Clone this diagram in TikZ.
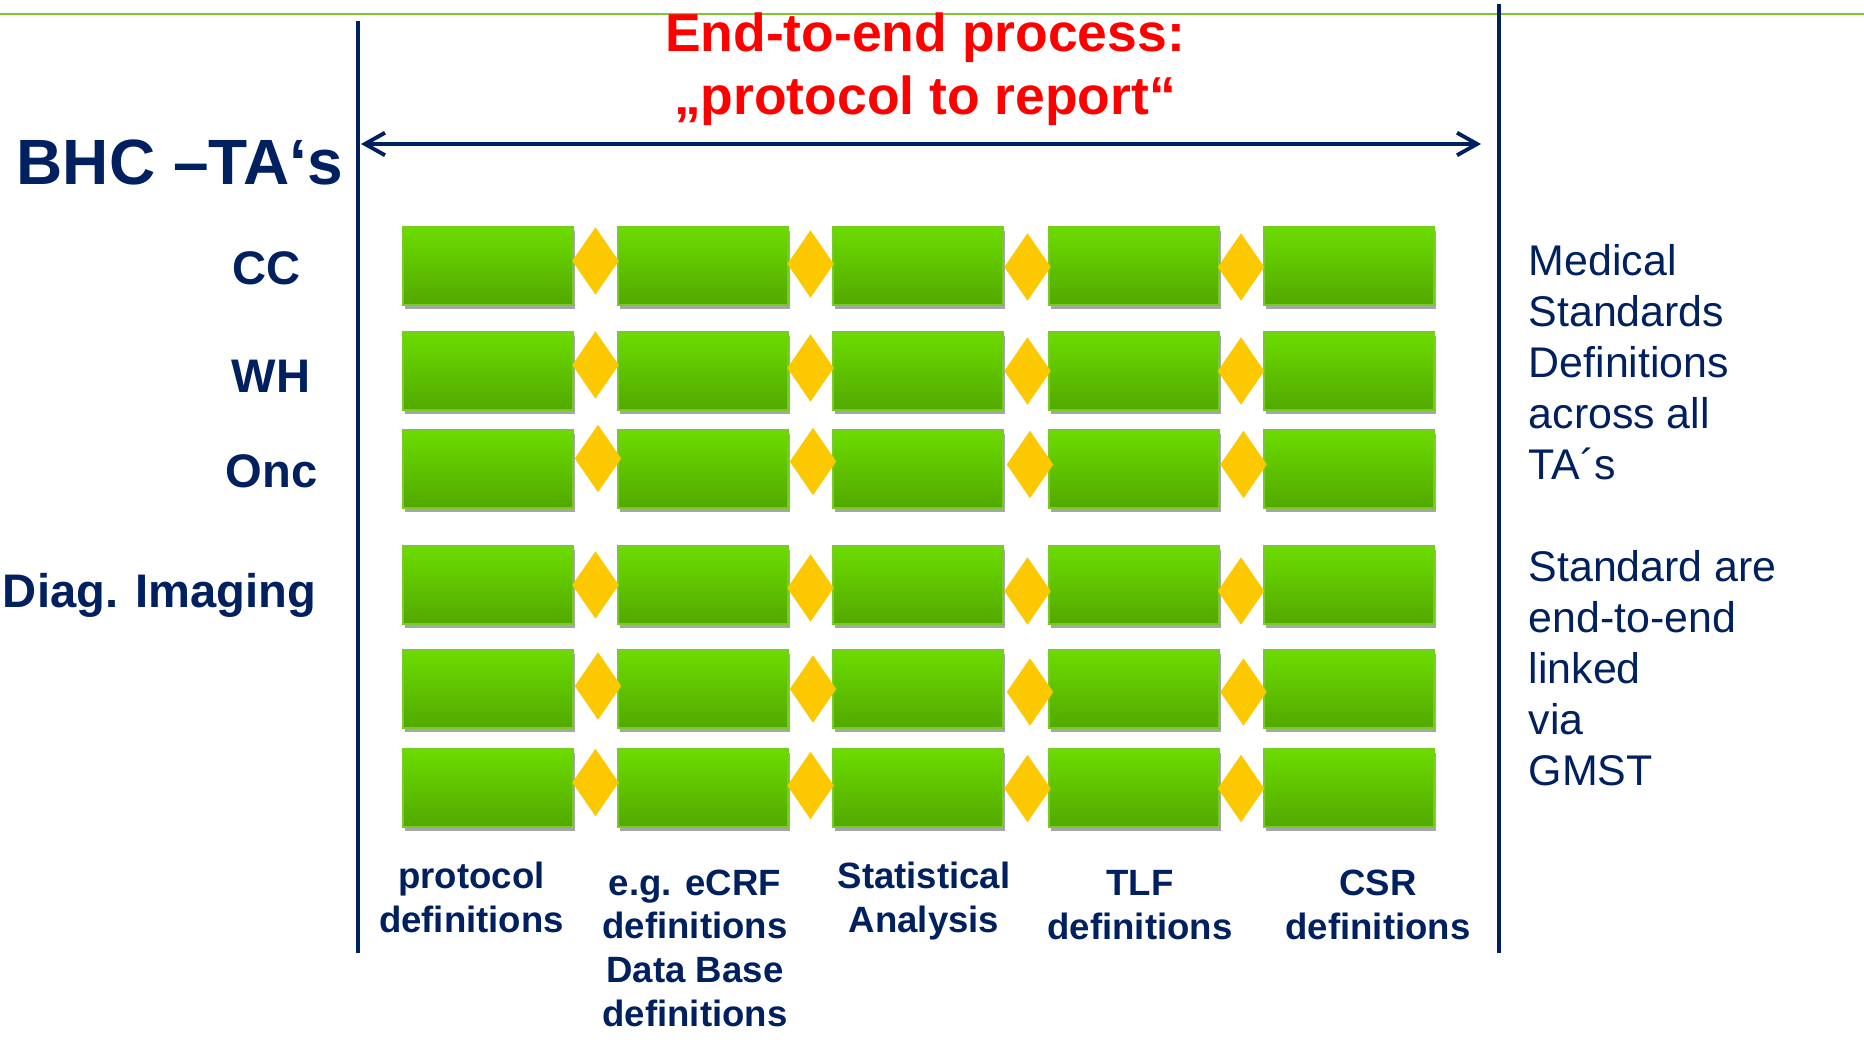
\documentclass[tikz,border=0pt]{standalone}
\usepackage{fontspec}
\setmainfont{Liberation Sans}
\usetikzlibrary{shapes.geometric,shadows,arrows.meta}
\definecolor{navy}{RGB}{0,32,96}
\definecolor{titlered}{RGB}{255,0,0}
\definecolor{topgreen}{RGB}{125,200,45}
\definecolor{boxtop}{RGB}{108,220,0}
\definecolor{boxbot}{RGB}{82,168,0}
\definecolor{boxedge}{RGB}{118,204,36}
\definecolor{boxshade}{RGB}{166,166,166}
\definecolor{linkgold}{RGB}{252,200,0}
\tikzset{
  stage/.style={rectangle, draw=boxedge, line width=0.45pt, top color=boxtop, bottom color=boxbot,
    minimum width=1.7cm, minimum height=0.78cm, inner sep=0pt,
    drop shadow={shadow xshift=0.45pt, shadow yshift=-1.15pt, fill=boxshade, opacity=1}},
  link/.style={diamond, fill=linkgold, minimum width=0.47cm, minimum height=0.68cm, inner sep=0pt},
  rule/.style={navy, line width=1.1pt},
  span/.style={navy, line width=1.1pt, {Straight Barb[length=5.7pt,width=6.4pt]}-{Straight Barb[length=5.7pt,width=6.4pt]}},
  headline/.style={text=titlered, font=\fontsize{15.2pt}{18pt}\selectfont\bfseries, align=center, inner sep=0pt},
  talabel/.style={text=navy, font=\fontsize{18.2pt}{20pt}\selectfont\bfseries, inner sep=0pt},
  rowlabel/.style={text=navy, font=\fontsize{13.4pt}{15pt}\selectfont\bfseries, inner sep=0pt},
  note/.style={text=navy, font=\fontsize{12.2pt}{14.5pt}\selectfont, align=left, inner sep=0pt},
  steplabel/.style={text=navy, font=\fontsize{10.4pt}{12.4pt}\selectfont\bfseries, align=center, inner sep=0pt}
}
\begin{document}
\begin{tikzpicture}[x=0.01cm, y=-0.01cm]
    \path [fill=white, use as bounding box] (0,0) rectangle (1864,1046);
    \draw [topgreen, line width=0.8pt] (0,14) -- (1864,14);
    \foreach \r/\y in {1/266,2/371,3/469,4/585,5/689,6/788}
      \foreach \c/\x in {1/488,2/703,3/918,4/1134,5/1349}
        \path (\x,\y) node [stage] (s\r\c) {};
    \foreach \r/\y/\dx in {1/261/0,2/365/0,3/458.5/2.5,4/585/0,5/686/2.5,6/782.5/0}
      \foreach \c/\x/\dy in {1/595.5/0,2/810.5/3,3/1027.5/6,4/1241/6}
        \path (\x+\dx,\y+\dy) node [link] (k\r\c) {};
    \coordinate (ltop) at (358,21);
    \coordinate (lbot) at (358,953);
    \coordinate (rtop) at (1499,4);
    \coordinate (rbot) at (1499,953);
    \draw [rule] (ltop) -- (lbot);
    \draw [rule] (rtop) -- (rbot);
    \coordinate (pa) at (361,144);
    \coordinate (pb) at (1481,144);
    \draw [span] (pa) -- (pb);
    \path (925,115) node [headline, anchor=base] (title) {End-to-end process:\\„protocol to report“};
    \path (16,185) node [talabel, anchor=base west] (ta) {BHC –TA‘s};
    \path (301,285) node [rowlabel, anchor=base east] (cc) {CC};
    \path (311,393) node [rowlabel, anchor=base east] (wh) {WH};
    \path (318,487) node [rowlabel, anchor=base east] (onc) {Onc};
    \path (317,607) node [rowlabel, anchor=base east] (diag) {Diag. Imaging};
    \path (1528,479.5) node [note, anchor=base west] (med) {Medical\\Standards\\Definitions\\across all\\TA´s};
    \path (1528,785.6) node [note, anchor=base west] (std) {Standard are\\end-to-end\\linked\\via\\GMST};
    \path (471.5,932) node [steplabel, anchor=base] (protocol) {protocol\\definitions};
    \path (695,1026) node [steplabel, anchor=base] (ecrf) {e.g. eCRF\\definitions\\Data Base\\definitions};
    \path (924,932) node [steplabel, anchor=base] (stat) {Statistical\\Analysis};
    \path (1140,939) node [steplabel, anchor=base] (tlf) {TLF\\definitions};
    \path (1378,939) node [steplabel, anchor=base] (csr) {CSR\\definitions};
\end{tikzpicture}
\end{document}
